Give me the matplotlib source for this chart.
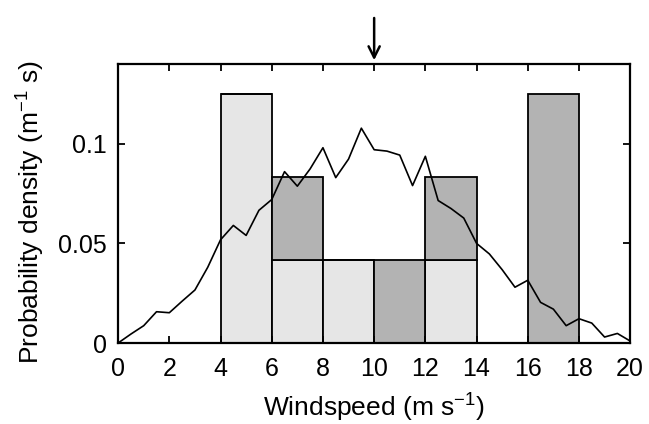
import numpy as np
import matplotlib.pyplot as plt

plt.rcParams['font.family'] = ['Liberation Sans', 'DejaVu Sans']
plt.rcParams['mathtext.default'] = 'regular'

# histogram bins (width 2) and stacked densities
bin_left = [4, 6, 8, 10, 12, 16]
light = [0.125, 1/24, 1/24, 0, 1/24, 0]
dark = [0, 1/24, 0, 1/24, 1/24, 0.125]

# smooth empirical density curve
ws = np.arange(0, 20.5, 0.5)
dens = [0.0, 0.0045, 0.0087, 0.0157, 0.0152, 0.021, 0.0266, 0.038, 0.0518,
        0.059, 0.054, 0.0666, 0.072, 0.086, 0.0787, 0.0874, 0.098, 0.083,
        0.0923, 0.1078, 0.097, 0.0963, 0.0943, 0.079, 0.0937, 0.0715, 0.0675,
        0.0627, 0.050, 0.0447, 0.0368, 0.028, 0.0315, 0.0204, 0.017, 0.0087,
        0.0122, 0.010, 0.003, 0.0048, 0.001]

fig = plt.figure(figsize=(6.49, 4.24), dpi=100)
ax = fig.add_axes([0.182, 0.191, 0.789, 0.658])

ax.bar(bin_left, light, width=2, align='edge', color='#e6e6e6',
       edgecolor='black', linewidth=1.3)
ax.bar(bin_left, dark, width=2, align='edge', bottom=light, color='#b3b3b3',
       edgecolor='black', linewidth=1.3)
ax.plot(ws, dens, color='black', linewidth=1.2)

ax.set_xlim(0, 20)
ax.set_ylim(0, 0.14)
ax.set_xticks(range(0, 21, 2))
ax.set_yticks([0, 0.05, 0.1])
ax.set_yticklabels(['0', '0.05', '0.1'])
ax.tick_params(direction='in', top=True, right=True, labelsize=18,
               width=1.3, length=5)
ax.tick_params(axis='x', pad=10)
ax.tick_params(axis='y', pad=8)
for s in ax.spines.values():
    s.set_linewidth(1.6)

ax.set_xlabel('Windspeed (m s$^{-1}$)', fontsize=19)
ax.set_ylabel('Probability density (m$^{-1}$ s)', fontsize=19)
ax.xaxis.set_label_coords(0.5, -0.175)
ax.yaxis.set_label_coords(-0.139, 0.47)

ax.annotate('', xy=(10, 0.1405), xytext=(10, 0.1645),
            arrowprops=dict(arrowstyle='->,head_length=0.8,head_width=0.4',
                            color='black', lw=1.8),
            annotation_clip=False)

fig.savefig('out.png', dpi=100)
